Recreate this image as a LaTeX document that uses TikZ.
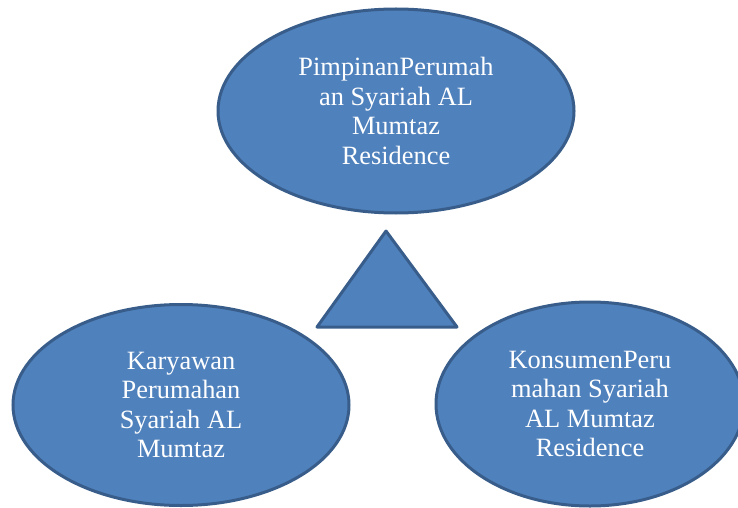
\documentclass[tikz,border=0pt]{standalone}
\usepackage{fontspec}
\setmainfont{Liberation Serif}
\usetikzlibrary{shapes.geometric}
\definecolor{fillblue}{HTML}{4F81BD}
\definecolor{edgeblue}{HTML}{385D8A}
\begin{document}
\begin{tikzpicture}[x=1pt,y=-1pt,
  bubble/.style={ellipse, draw=edgeblue, fill=fillblue, line width=3pt, inner sep=0pt,
    text=white, align=center, font=\fontsize{26.4}{29.5}\selectfont},
  tri/.style={draw=edgeblue, fill=fillblue, line width=3pt, line join=round}]
\useasboundingbox (0,0) rectangle (738,508);
\node[bubble, minimum width=356pt, minimum height=204pt] (top) at (396,111)
  {PimpinanPerumah\\an Syariah AL\\Mumtaz\\Residence};
\node[bubble, minimum width=336pt, minimum height=201pt] (left) at (181,405)
  {Karyawan\\Perumahan\\Syariah AL\\Mumtaz};
\node[bubble, minimum width=308pt, minimum height=204pt] (right) at (590,404)
  {KonsumenPeru\\mahan Syariah\\AL Mumtaz\\Residence};
\coordinate (apex) at (386,231);
\coordinate (bl) at (317,327);
\coordinate (br) at (457,327);
\draw[tri] (apex) -- (bl) -- (br) -- cycle;
\end{tikzpicture}
\end{document}
